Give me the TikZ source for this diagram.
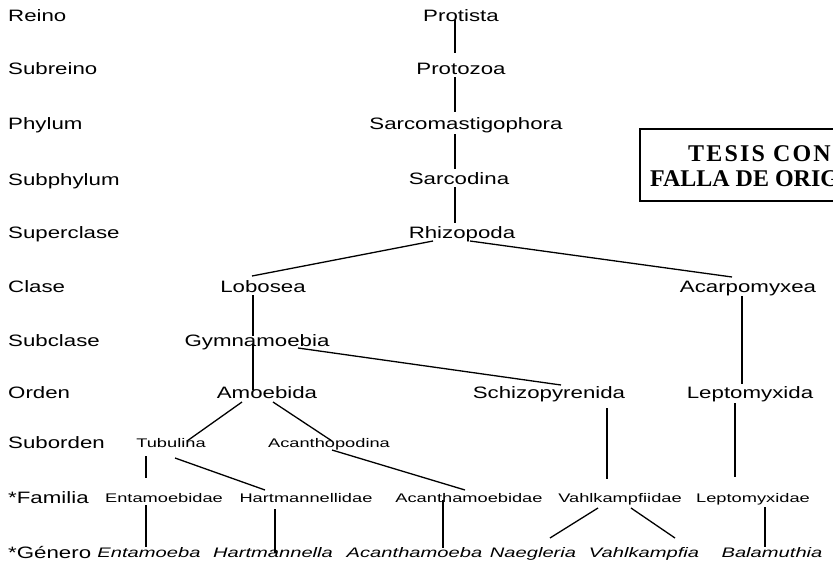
\documentclass[tikz,border=0pt]{standalone}
\usepackage{fontspec}
\setmainfont{Liberation Sans}[FakeStretch=1.35]
\newfontfamily\smallfam{Liberation Sans}[FakeStretch=1.46]
\newfontfamily\stampfam{Liberation Serif}
\newfontfamily\stampwide{Liberation Serif}[LetterSpace=9]
\begin{document}
\begin{tikzpicture}[x=1pt,y=-1pt,
  big/.style={font=\fontsize{16.5}{18}\selectfont, inner sep=0pt, anchor=base},
  lbl/.style={big, anchor=base west},
  sm/.style={font=\smallfam\fontsize{12.5}{14}\selectfont, inner sep=0pt, anchor=base},
  gen/.style={font=\smallfam\itshape\fontsize{13.8}{15}\selectfont, inner sep=0pt, anchor=base},
  stamptxt/.style={font=\stampfam\bfseries\fontsize{24}{26}\selectfont, inner sep=0pt, anchor=base west},
  stampwidetxt/.style={font=\stampwide\bfseries\fontsize{24}{26}\selectfont, inner sep=0pt, anchor=base west},
  ln/.style={line width=1.3pt},
  stampline/.style={line width=1.6pt}]
\useasboundingbox (0,0) rectangle (833,560);
\clip (0,0) rectangle (833,560);

% rank labels
\node[lbl] (rReino) at (8,21) {Reino};
\node[lbl] (rSubreino) at (8,74) {Subreino};
\node[lbl] (rPhylum) at (8,129) {Phylum};
\node[lbl] (rSubphylum) at (8,185) {Subphylum};
\node[lbl] (rSuperclase) at (8,238) {Superclase};
\node[lbl] (rClase) at (8,292) {Clase};
\node[lbl] (rSubclase) at (8,346) {Subclase};
\node[lbl] (rOrden) at (8,398) {Orden};
\node[lbl] (rSuborden) at (8,448) {Suborden};
\node[lbl] (rFamilia) at (8,503) {*Familia};
\node[lbl] (rGenero) at (8,558) {*Género};

% taxa
\node[big] (protista) at (461,21) {Protista};
\node[big] (protozoa) at (461,74) {Protozoa};
\node[big] (sarco) at (466,129) {Sarcomastigophora};
\node[big] (sarcod) at (459,184) {Sarcodina};
\node[big] (rhizo) at (462,238) {Rhizopoda};
\node[big] (lobosea) at (263,292) {Lobosea};
\node[big] (acarp) at (748,292) {Acarpomyxea};
\node[big] (gymn) at (257,346) {Gymnamoebia};
\node[big] (amoeb) at (267,398) {Amoebida};
\node[big] (schizo) at (549,398) {Schizopyrenida};
\node[big] (leptoa) at (750,398) {Leptomyxida};
\node[sm] (tubul) at (171,447.5) {Tubulina};
\node[sm] (acanp) at (329,447.5) {Acanthopodina};
\node[sm] (entd) at (164,502) {Entamoebidae};
\node[sm] (hartd) at (306,502) {Hartmannellidae};
\node[sm] (acand) at (469,502) {Acanthamoebidae};
\node[sm] (vahld) at (620,502) {Vahlkampfiidae};
\node[sm] (leptd) at (753,502) {Leptomyxidae};
\node[gen] (entb) at (149,557) {Entamoeba};
\node[gen] (hartb) at (273,557) {Hartmannella};
\node[gen] (acanb) at (414.5,557) {Acanthamoeba};
\node[gen] (naeg) at (533,557) {Naegleria};
\node[gen] (vahlb) at (644,557) {Vahlkampfia};
\node[gen] (balam) at (772,557) {Balamuthia};

% connector end points
\coordinate (a1) at (455,20);  \coordinate (b1) at (455,53);
\coordinate (a2) at (455,77);  \coordinate (b2) at (455,112);
\coordinate (a3) at (455,134); \coordinate (b3) at (455,169);
\coordinate (a4) at (455,187); \coordinate (b4) at (455,223);
\coordinate (a5) at (433,241); \coordinate (b5) at (252,276);
\coordinate (a6) at (470,241); \coordinate (b6) at (732,277);
\coordinate (a7) at (253,295); \coordinate (b7) at (253,336);
\coordinate (a8) at (253,344); \coordinate (b8) at (253,390);
\coordinate (a9) at (298,348); \coordinate (b9) at (561,385);
\coordinate (a10) at (742,296); \coordinate (b10) at (742,384);
\coordinate (a11) at (242,402); \coordinate (b11) at (187,441);
\coordinate (a12) at (273,402); \coordinate (b12) at (332,441);
\coordinate (a13) at (607,408); \coordinate (b13) at (607,479);
\coordinate (a14) at (735,403); \coordinate (b14) at (735,477);
\coordinate (a15) at (146,456); \coordinate (b15) at (146,478);
\coordinate (a16) at (175,458); \coordinate (b16) at (265,490);
\coordinate (a17) at (332,450); \coordinate (b17) at (465,490);
\coordinate (a18) at (146,505); \coordinate (b18) at (146,547);
\coordinate (a19) at (275,509); \coordinate (b19) at (275,553);
\coordinate (a20) at (443,500); \coordinate (b20) at (443,548);
\coordinate (a21) at (598,508); \coordinate (b21) at (550,538);
\coordinate (a22) at (631,508); \coordinate (b22) at (675,538);
\coordinate (a23) at (765,507); \coordinate (b23) at (765,547);

\foreach \i in {1,...,23} { \draw[ln] (a\i) -- (b\i); }

% stamp
\coordinate (s1) at (640,129); \coordinate (s2) at (845,129);
\coordinate (s3) at (640,201); \coordinate (s4) at (845,201);
\draw[stampline] (s2) -- (s1) -- (s3) -- (s4);
\node[stampwidetxt] (st1) at (688,161) {TESIS CON};
\node[stamptxt] (st2) at (650,186) {FALLA DE ORIGEN};
\end{tikzpicture}
\end{document}
